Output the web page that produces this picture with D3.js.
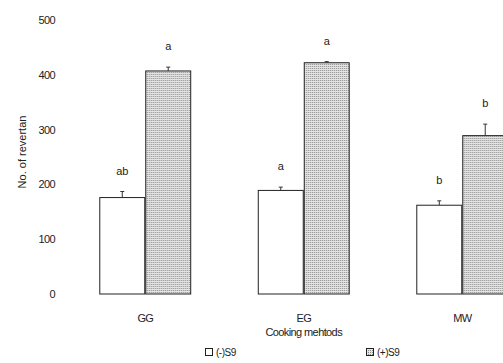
<!DOCTYPE html>
<html>
<head>
<meta charset="utf-8">
<script src="https://cdn.jsdelivr.net/npm/d3@7"></script>
<style>
  body { margin: 0; background: #fff; }
  text { font-family: "Liberation Sans", Arial, sans-serif; fill: #222; }
</style>
</head>
<body>
<div id="chart"></div>
<script>
// Data
const methods = ["GG", "EG", "MW"];
const minusS9 = [176, 189, 162];
const minusS9Err = [11, 6, 8];
const plusS9 = [407, 422, 289];
const plusS9Err = [7, 2, 21];
const minusLetters = ["ab", "a", "b"];
const plusLetters = ["a", "a", "b"];
const yTicks = [0, 100, 200, 300, 400, 500];

const W = 503, H = 363;
const baseY = 294;

const svg = d3.select("#chart")
    .append("svg")
    .attr("width", W)
    .attr("height", H);

svg.append("rect").attr("width", W).attr("height", H).attr("fill", "#fff");

// stipple pattern for the (+)S9 bars
const defs = svg.append("defs");
const pat = defs.append("pattern")
    .attr("id", "dots")
    .attr("patternUnits", "userSpaceOnUse")
    .attr("width", 2)
    .attr("height", 2);
pat.append("rect").attr("width", 2).attr("height", 2).attr("fill", "#e4e4e4");
pat.append("rect").attr("width", 1).attr("height", 1).attr("fill", "#8a8a8a");

// Scales
const yScale = d3.scaleLinear()
    .domain([0, 500])
    .range([baseY, 20]);

const xScale = d3.scaleBand()
    .domain(methods)
    .range([66, 541.5])
    .paddingInner(0.42)
    .paddingOuter(0.21);

const sub = d3.scaleBand()
    .domain(["minus", "plus"])
    .range([0, xScale.bandwidth()]);

// Y axis (labels only, no line)
const yAxis = svg.append("g")
    .attr("transform", "translate(58,0)")
    .call(d3.axisLeft(yScale).tickValues(yTicks).tickSize(0).tickPadding(3));
yAxis.select(".domain").remove();
yAxis.selectAll("text")
    .style("font-size", "11px")
    .style("font-family", "'Liberation Sans', Arial, sans-serif")
    .attr("fill", "#222")
    .attr("letter-spacing", "-0.6");

svg.append("text")
    .attr("transform", "rotate(-90)")
    .attr("x", -152)
    .attr("y", 26)
    .style("text-anchor", "middle")
    .style("font-size", "11px")
    .text("No. of revertan");

// Bars
const rows = methods.map((m, i) => ({
    m: m,
    minus: minusS9[i], minusErr: minusS9Err[i], minusL: minusLetters[i],
    plus: plusS9[i], plusErr: plusS9Err[i], plusL: plusLetters[i]
}));

const groups = svg.selectAll(".grp")
    .data(rows)
    .enter()
    .append("g")
    .attr("class", "grp")
    .attr("transform", d => `translate(${xScale(d.m)},0)`);

const series = [
    { key: "minus", err: "minusErr", lab: "minusL", fill: "#fff" },
    { key: "plus", err: "plusErr", lab: "plusL", fill: "url(#dots)" }
];

series.forEach(s => {
    const bx = sub(s.key), bw = sub.bandwidth();
    // error bars
    groups.append("line")
        .attr("x1", bx + bw / 2).attr("x2", bx + bw / 2)
        .attr("y1", d => yScale(d[s.key]))
        .attr("y2", d => yScale(d[s.key] + d[s.err]))
        .attr("stroke", "#333").attr("stroke-width", 1);
    groups.append("line")
        .attr("x1", bx + bw / 2 - 2).attr("x2", bx + bw / 2 + 2)
        .attr("y1", d => yScale(d[s.key] + d[s.err]))
        .attr("y2", d => yScale(d[s.key] + d[s.err]))
        .attr("stroke", "#333").attr("stroke-width", 1);
    groups.append("rect")
        .attr("x", bx + 0.5)
        .attr("y", d => yScale(d[s.key]))
        .attr("width", bw - 1)
        .attr("height", d => baseY - yScale(d[s.key]))
        .attr("fill", s.fill)
        .attr("stroke", "#222")
        .attr("stroke-width", 1);
    groups.append("text")
        .attr("x", bx + bw / 2)
        .attr("y", d => yScale(d[s.key] + d[s.err]) - 17)
        .style("text-anchor", "middle")
        .style("font-size", "11px")
        .text(d => d[s.lab]);
});

// X labels
svg.selectAll(".xlab")
    .data(methods)
    .enter()
    .append("text")
    .attr("class", "xlab")
    .attr("x", d => xScale(d) + xScale.bandwidth() / 2)
    .attr("y", 322)
    .style("text-anchor", "middle")
    .style("font-size", "11px")
    .attr("letter-spacing", "-0.8")
    .text(d => d);

svg.append("text")
    .attr("x", xScale("EG") + xScale.bandwidth() / 2)
    .attr("y", 336)
    .style("text-anchor", "middle")
    .style("font-size", "11px")
    .attr("letter-spacing", "-0.6")
    .text("Cooking mehtods");

// Legend
const legendData = [
    { label: "(-)S9", fill: "#fff", x: 205 },
    { label: "(+)S9", fill: "url(#dots)", x: 366 }
];
const legend = svg.selectAll(".leg")
    .data(legendData)
    .enter()
    .append("g")
    .attr("class", "leg")
    .attr("transform", d => `translate(${d.x},348)`);
legend.append("rect")
    .attr("x", 0.5).attr("y", 0.5)
    .attr("width", 7).attr("height", 7)
    .attr("fill", d => d.fill)
    .attr("stroke", "#222");
legend.append("text")
    .attr("x", 11)
    .attr("y", 8)
    .style("font-size", "10px")
    .attr("letter-spacing", "-0.5")
    .text(d => d.label);
</script>
</body>
</html>
